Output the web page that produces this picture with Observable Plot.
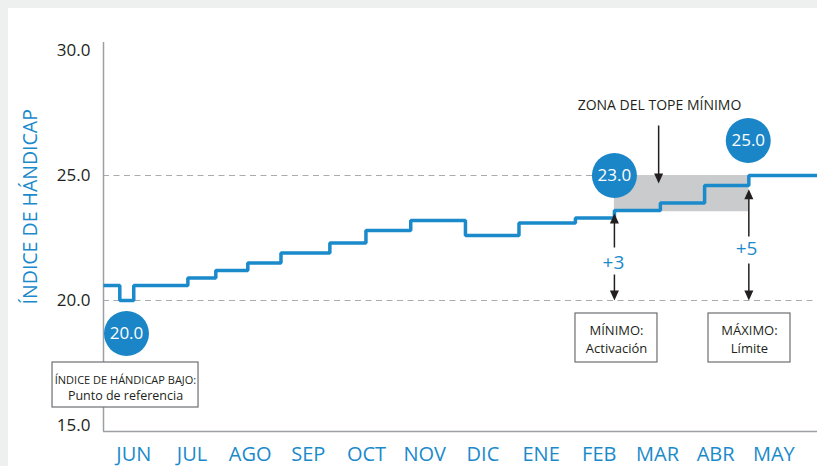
<!DOCTYPE html>
<html><head><meta charset="utf-8">
<script src="https://cdn.jsdelivr.net/npm/d3@7"></script>
<script src="https://cdn.jsdelivr.net/npm/@observablehq/plot@0.6"></script>
<style>
html,body{margin:0;padding:0;background:#eef0ef;overflow:hidden;width:817px;height:466px;}
#panel{position:absolute;left:8px;top:8px;width:809px;height:458px;background:#fff;}
#panel svg{display:block;overflow:visible;}
</style></head><body><div id="panel"></div>
<script>
// ---- data ----
const months = ["JUN","JUL","AGO","SEP","OCT","NOV","DIC","ENE","FEB","MAR","ABR","MAY"];
const yTicks = [15, 20, 25, 30];
// revision dates (in month units, JUN = 0) and handicap index after each revision
const revisionAt = [-0.52, -0.24, 0.0, 0.93, 1.41, 1.96, 2.53, 3.37, 3.99, 4.76, 5.70, 6.62, 7.59, 8.26, 9.05, 9.81, 10.57, 11.75];
const handicap   = [20.6, 20.0, 20.6, 20.9, 21.2, 21.5, 21.9, 22.3, 22.8, 23.2, 22.6, 23.1, 23.3, 23.6, 23.9, 24.6, 25.0, 25.0];
const refLines = [20, 25];
const zoneSpan = [8.26, 10.57];
const zoneRange = [23.55, 25.0];
const bubbleLabels = ["20.0", "23.0", "25.0"];

// ---- annotation layout (chart units) ----
const X0 = -0.52, X1 = 11.75, Y0 = 14.76, Y1 = 30.32;
const blue = "#1b8acb";
const ink = "#231f20";
const steps = revisionAt.map((x, i) => ({x, v: handicap[i]}));
const bubbles = [
  {x: -0.125, y: 18.68, label: bubbleLabels[0]},
  {x: 8.26, y: 25.0, label: bubbleLabels[1]},
  {x: 10.56, y: 26.4, label: bubbleLabels[2]}
];
const boxes = [
  {x1: -1.396, x2: 1.113, y1: 15.72, y2: 17.52},
  {x1: 7.591, x2: 9.0, y1: 17.52, y2: 19.48},
  {x1: 9.877, x2: 11.286, y1: 17.52, y2: 19.48}
];
const boxText = [
  {x: -0.142, y: 16.8, t: "ÍNDICE DE HÁNDICAP BAJO:", s: 11},
  {x: -0.142, y: 16.2, t: "Punto de referencia", s: 12.5},
  {x: 8.296, y: 18.8, t: "MÍNIMO:", s: 13},
  {x: 8.296, y: 18.08, t: "Activación", s: 13},
  {x: 10.581, y: 18.8, t: "MÁXIMO:", s: 13},
  {x: 10.581, y: 18.08, t: "Límite", s: 13}
];
const arrows = [
  {x: 8.26, from: 22.12, to: 23.48, dir: "up"},
  {x: 8.26, from: 21.04, to: 20.0, dir: "down"},
  {x: 10.57, from: 22.56, to: 24.45, dir: "up"},
  {x: 10.57, from: 21.48, to: 20.0, dir: "down"},
  {x: 9.02, from: 27.0, to: 24.68, dir: "down"}
];
const deltas = [
  {x: 8.244, y: 21.52, t: "+3"},
  {x: 10.53, y: 22.08, t: "+5"}
];
const upHead = {draw(ctx){ ctx.moveTo(0,0); ctx.lineTo(-4.5,10); ctx.lineTo(4.5,10); ctx.closePath(); }};
const downHead = {draw(ctx){ ctx.moveTo(0,0); ctx.lineTo(-4.5,-10); ctx.lineTo(4.5,-10); ctx.closePath(); }};

const chart = Plot.plot({
  width: 809, height: 458,
  marginLeft: 95, marginRight: 0, marginTop: 34, marginBottom: 35,
  style: {fontFamily: "'Open Sans', sans-serif", background: "transparent", overflow: "visible"},
  x: {domain: [X0, X1], axis: null},
  y: {domain: [Y0, Y1], axis: null},
  marks: [
    Plot.ruleY(refLines, {stroke: "#a9abae", strokeWidth: 1.2, strokeDasharray: "6,4.5"}),
    Plot.rect([0], {x1: zoneSpan[0], x2: zoneSpan[1], y1: zoneRange[0], y2: zoneRange[1], fill: "#c9cbcc"}),
    Plot.ruleX([X0], {y1: Y0, y2: Y1, stroke: "#9d9fa2", strokeWidth: 1.5}),
    Plot.ruleY([Y0], {stroke: "#9d9fa2", strokeWidth: 1.5}),
    Plot.axisY({ticks: yTicks, tickFormat: d3.format(".1f"), tickSize: 0, tickPadding: 13, fontSize: 17, fill: ink, label: null}),
    Plot.axisX({ticks: d3.range(12), tickFormat: i => months[i], tickSize: 0, tickPadding: 15.5, fontSize: 20, fill: blue, label: null}),
    Plot.text(["ÍNDICE DE HÁNDICAP"], {x: X0, y: 23.75, dx: -73, rotate: -90, fill: blue, fontSize: 19.5}),
    Plot.line(steps, {x: "x", y: "v", curve: "step-after", stroke: blue, strokeWidth: 3.5, strokeLinejoin: "miter", strokeLinecap: "butt"}),
    Plot.rect(boxes, {x1: "x1", x2: "x2", y1: "y1", y2: "y2", fill: "white", stroke: "#6d6e71", strokeWidth: 1.2}),
    Plot.text(boxText, {x: "x", y: "y", text: "t", fontSize: "s", fill: ink}),
    Plot.link(arrows, {x1: "x", x2: "x", y1: "from", y2: d => d.to + (d.dir === "up" ? -0.3 : 0.3), stroke: ink, strokeWidth: 1.5}),
    Plot.dot(arrows, {x: "x", y: "to", symbol: d => d.dir === "up" ? upHead : downHead, fill: ink, stroke: "none", r: 4}),
    Plot.text(deltas, {x: "x", y: "y", text: "t", fill: blue, fontSize: 19}),
    Plot.text(["ZONA DEL TOPE MÍNIMO"], {x: 9.035, y: 27.8, fill: ink, fontSize: 14}),
    Plot.dot(bubbles, {x: "x", y: "y", r: 22.5, fill: "#1a86c8", stroke: "none"}),
    Plot.text(bubbles, {x: "x", y: "y", text: "label", fill: "white", fontSize: 17})
  ]
});
document.getElementById("panel").appendChild(chart);
</script></body></html>
